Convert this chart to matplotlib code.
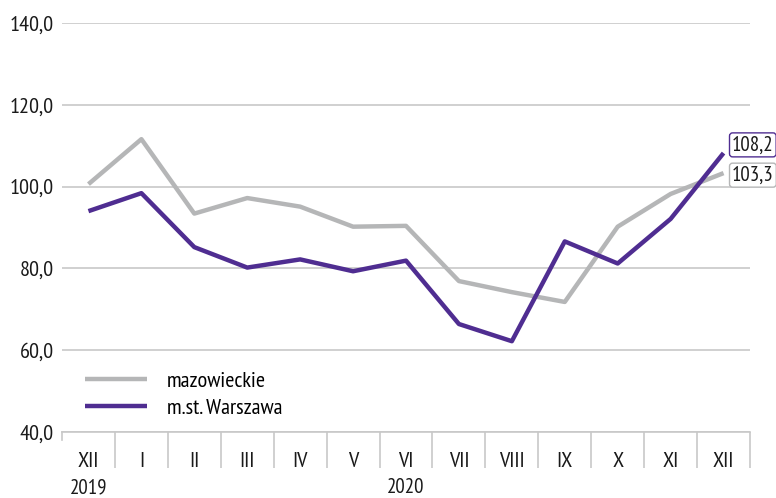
import matplotlib
matplotlib.use("Agg")
import matplotlib.pyplot as plt
from matplotlib import font_manager

months = ["XII", "I", "II", "III", "IV", "V", "VI", "VII", "VIII", "IX", "X", "XI", "XII"]
years = ["2019", "2020"]
mazowieckie = [100.6, 111.6, 93.4, 97.2, 95.1, 90.2, 90.4, 76.9, 74.2, 71.8, 90.2, 98.2, 103.3]
warszawa = [94.0, 98.4, 85.2, 80.2, 82.2, 79.3, 81.9, 66.4, 62.2, 86.6, 81.2, 92.1, 108.2]
yticks = [40, 60, 80, 100, 120, 140]

names = {f.name for f in font_manager.fontManager.ttflist}
fam = "DejaVu Sans"
for cand in ["PT Sans Narrow", "Fira Sans Condensed", "Roboto Condensed", "Open Sans Condensed",
             "Liberation Sans Narrow", "Archivo Narrow", "Asap Condensed", "IBM Plex Sans Condensed"]:
    if cand in names:
        fam = cand
        break
plt.rcParams['font.family'] = [fam, 'DejaVu Sans']

gray = "#b5b6b7"
purple = "#4f2d91"
grid_c = "#c8c8c8"
txt_c = "#1a1a1a"
fs = 16

fig = plt.figure(figsize=(7.76, 4.98), dpi=100)
ax = fig.add_axes([62/776, 66/498, (750-62)/776, (432-23)/498])

x = list(range(len(months)))
ax.plot(x, mazowieckie, color=gray, lw=3.2, solid_capstyle='butt', label="mazowieckie", zorder=3)
ax.plot(x, warszawa, color=purple, lw=3.2, solid_capstyle='butt', label="m.st. Warszawa", zorder=4)

ax.set_xlim(-0.5, len(months) - 0.5)
ax.set_ylim(40, 140)
ax.set_yticks(yticks)
ax.set_yticklabels([f"{v:.1f}".replace(".", ",") for v in yticks], fontsize=fs)
ax.grid(axis='y', color=grid_c, lw=1.2)
ax.set_axisbelow(True)
for s in ["top", "right", "left"]:
    ax.spines[s].set_visible(False)
ax.spines["bottom"].set_color(grid_c)
ax.spines["bottom"].set_linewidth(1.2)
ax.tick_params(axis='y', length=0, pad=6, colors=txt_c)

# category separators
ax.set_xticks([i + 0.5 for i in range(len(months))])
ax.set_xticklabels([])
ax.tick_params(axis='x', length=26, width=1.2, color=grid_c, direction='out')
ax.plot([-0.5, -0.5], [0, -0.02], transform=ax.get_xaxis_transform(), color=grid_c, lw=1.2,
        clip_on=False)
for i, m in enumerate(months):
    ax.text(i, -0.072, m, transform=ax.get_xaxis_transform(), ha='center', va='center',
            fontsize=fs, color=txt_c)
ax.text(0, -0.136, years[0], transform=ax.get_xaxis_transform(), ha='center', va='center',
        fontsize=fs - 1, color=txt_c)
ax.text(6, -0.136, years[1], transform=ax.get_xaxis_transform(), ha='center', va='center',
        fontsize=fs - 1, color=txt_c)

# end labels
ax.annotate(f"{warszawa[-1]:.1f}".replace(".", ","), xy=(12, warszawa[-1]), xytext=(12.16, 110.2),
            fontsize=fs - 1, va='center', ha='left', annotation_clip=False, color=txt_c,
            bbox=dict(boxstyle="round,pad=0.12,rounding_size=0.15", fc="white", ec=purple, lw=1))
ax.annotate(f"{mazowieckie[-1]:.1f}".replace(".", ","), xy=(12, mazowieckie[-1]), xytext=(12.16, 102.8),
            fontsize=fs - 1, va='center', ha='left', annotation_clip=False, color=txt_c,
            bbox=dict(boxstyle="round,pad=0.12,rounding_size=0.15", fc="white", ec=gray, lw=1))

leg = ax.legend(loc='lower left', bbox_to_anchor=(0.02, 0.013), frameon=False, fontsize=fs,
                handlelength=2.8, handletextpad=0.9, labelspacing=0.32, borderaxespad=0)

fig.savefig("out.png", dpi=100)
